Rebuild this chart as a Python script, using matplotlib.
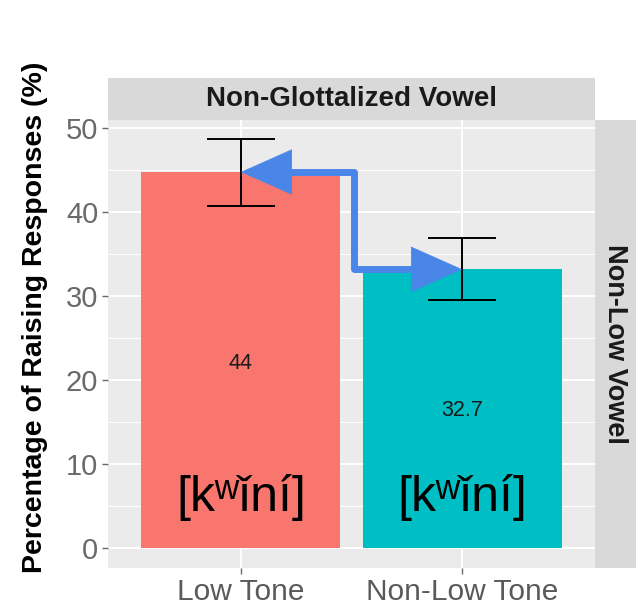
import matplotlib.pyplot as plt

plt.rcParams['font.family'] = ['Liberation Sans', 'DejaVu Sans']

# data
categories = ['Low Tone', 'Non-Low Tone']
bar_values = [44.8, 33.2]
value_labels = ['44', '32.7']
label_pos = [22.0, 16.35]
err_low = [40.8, 29.6]
err_high = [48.7, 36.9]
bar_colors = ['#F8766D', '#00BFC4']
ipa_word = '[kʷǐní]'

fig = plt.figure(figsize=(6.36, 6.06), dpi=100)
fig.patch.set_facecolor('white')

ax = fig.add_axes([108/636, 1 - 568/606, 487/636, 448/606])
ax.set_facecolor('#EBEBEB')
x = [1, 2]

# grid
for y in [5, 15, 25, 35, 45]:
    ax.axhline(y, color='white', lw=0.7, zorder=0)
for y in [0, 10, 20, 30, 40, 50]:
    ax.axhline(y, color='white', lw=1.4, zorder=0)
for xi in x:
    ax.axvline(xi, color='white', lw=1.4, zorder=0)

ax.bar(x, bar_values, width=0.9, color=bar_colors, zorder=2)
for xi, lo, hi in zip(x, err_low, err_high):
    ax.plot([xi, xi], [lo, hi], color='black', lw=1.4, zorder=3)
    ax.plot([xi - 0.15, xi + 0.15], [lo, lo], color='black', lw=1.4, zorder=3)
    ax.plot([xi - 0.15, xi + 0.15], [hi, hi], color='black', lw=1.4, zorder=3)

for xi, lbl, yp in zip(x, value_labels, label_pos):
    ax.text(xi, yp, lbl, ha='center', va='center', fontsize=15.5,
            color='#1a1a1a', zorder=4)

for xi in x:
    ax.text(xi, 6.0, ipa_word, ha='center', va='center', fontsize=36,
            color='black', zorder=4)

# elbow arrow between the bar tops
blue = '#4A86E8'
xc = 1.51
ax.plot([x[0] + 0.15, xc, xc, x[1] - 0.15],
        [bar_values[0], bar_values[0], bar_values[1], bar_values[1]],
        color=blue, lw=5, solid_joinstyle='round', solid_capstyle='butt', zorder=5)
for xi, v in zip(x, bar_values):
    ax.annotate('', xy=(xi, v), xytext=(xc, v), zorder=5,
                arrowprops=dict(arrowstyle='-|>,head_length=1.8,head_width=0.8',
                                mutation_scale=20, color=blue, lw=0.5,
                                shrinkA=0, shrinkB=0))

ax.set_xlim(0.4, 2.6)
ax.set_ylim(-2.4, 51.0)
ax.set_xticks(x)
ax.set_xticklabels(categories, fontsize=21.5, color='#5A5A5A')
ax.set_yticks([0, 10, 20, 30, 40, 50])
ax.set_yticklabels(['0', '10', '20', '30', '40', '50'], fontsize=21, color='#6A6A6A')
ax.tick_params(axis='both', length=4, width=1, color='#6A6A6A', pad=3)
for s in ax.spines.values():
    s.set_visible(False)

fig.text(35/636, 1 - 317/606, 'Percentage of Raising Responses (%)', rotation=90,
         ha='center', va='center', fontsize=20.5, fontweight='bold')

# facet strips
top = fig.add_axes([108/636, 1 - 120/606, 487/636, 42/606])
top.set_facecolor('#D9D9D9')
top.set_xticks([]); top.set_yticks([])
for s in top.spines.values():
    s.set_visible(False)
top.text(0.5, 0.5, 'Non-Glottalized Vowel', ha='center', va='center',
         fontsize=20, fontweight='bold', color='#1a1a1a', transform=top.transAxes)

right = fig.add_axes([595/636, 1 - 568/606, 41/636, 448/606])
right.set_facecolor('#D9D9D9')
right.set_xticks([]); right.set_yticks([])
for s in right.spines.values():
    s.set_visible(False)
right.text(0.5, 0.5, 'Non-Low Vowel', ha='center', va='center', rotation=-90,
           fontsize=19.5, fontweight='bold', color='#1a1a1a', transform=right.transAxes)

fig.savefig('out.png', dpi=100, facecolor='white')
